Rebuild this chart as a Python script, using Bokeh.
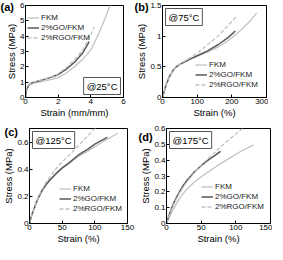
from bokeh.plotting import figure
from bokeh.models import Range1d, Legend, LegendItem, Label, FixedTicker
from bokeh.layouts import column, row
from bokeh.embed import file_html
from bokeh.resources import INLINE

SERIES = ["FKM", "2%GO/FKM", "2%RGO/FKM"]

# (a) 25 C, strain in mm/mm
A_FKM_X = [0, 0.05, 0.1, 0.2, 0.3, 0.5, 0.8, 1.2, 1.6, 2.0, 2.5, 3.0, 3.5, 4.0, 4.5, 5.0, 5.2]
A_FKM_Y = [0, 0.35, 0.55, 0.75, 0.85, 0.93, 1.0, 1.08, 1.18, 1.3, 1.6, 2.0, 2.5, 3.1, 4.2, 5.5, 6.1]
A_GO_X = [0, 0.05, 0.1, 0.2, 0.3, 0.5, 0.8, 1.2, 1.6, 2.0, 2.5, 3.0, 3.5, 3.9]
A_GO_Y = [0, 0.4, 0.6, 0.8, 0.9, 1.0, 1.08, 1.2, 1.33, 1.5, 1.85, 2.3, 2.9, 3.65]
A_RGO_X = [0, 0.05, 0.1, 0.2, 0.3, 0.5, 0.8, 1.2, 1.6, 2.0, 2.5, 3.0, 3.5, 4.0, 4.2]
A_RGO_Y = [0, 0.4, 0.6, 0.8, 0.9, 1.0, 1.1, 1.22, 1.36, 1.55, 1.95, 2.45, 3.1, 4.1, 4.6]

# (b) 75 C, strain in %
B_FKM_X = [0, 5, 10, 20, 30, 40, 50, 60, 80, 100, 130, 160, 200, 230, 250, 272]
B_FKM_Y = [0, 0.1, 0.2, 0.34, 0.44, 0.5, 0.54, 0.57, 0.62, 0.67, 0.74, 0.82, 0.97, 1.12, 1.23, 1.38]
B_GO_X = [0, 5, 10, 20, 30, 40, 50, 60, 80, 100, 130, 160, 190, 210]
B_GO_Y = [0, 0.1, 0.2, 0.34, 0.44, 0.5, 0.54, 0.57, 0.63, 0.68, 0.76, 0.86, 0.98, 1.085]
B_RGO_X = [0, 5, 10, 20, 30, 40, 50, 60, 80, 100, 130, 160, 190, 215]
B_RGO_Y = [0, 0.1, 0.2, 0.34, 0.44, 0.5, 0.54, 0.58, 0.65, 0.72, 0.86, 1.0, 1.18, 1.33]

# (c) 125 C
C_FKM_X = [0, 2, 5, 10, 15, 20, 25, 30, 40, 50, 60, 75, 90, 100, 115, 135]
C_FKM_Y = [0, 0.035, 0.08, 0.145, 0.2, 0.245, 0.28, 0.31, 0.36, 0.405, 0.44, 0.495, 0.535, 0.565, 0.61, 0.665]
C_GO_X = [0, 2, 5, 10, 15, 20, 25, 30, 40, 50, 60, 75, 90, 100, 119]
C_GO_Y = [0, 0.04, 0.085, 0.15, 0.205, 0.25, 0.285, 0.315, 0.365, 0.41, 0.445, 0.505, 0.55, 0.585, 0.635]
C_RGO_X = [0, 2, 5, 10, 15, 20, 25, 30, 40, 50, 60, 75, 90, 104]
C_RGO_Y = [0, 0.04, 0.085, 0.15, 0.21, 0.26, 0.3, 0.335, 0.4, 0.455, 0.5, 0.575, 0.65, 0.72]

# (d) 175 C
D_FKM_X = [0, 2, 5, 10, 15, 20, 25, 30, 40, 50, 60, 75, 90, 105, 125]
D_FKM_Y = [0, 0.02, 0.05, 0.09, 0.13, 0.165, 0.195, 0.22, 0.26, 0.295, 0.325, 0.37, 0.41, 0.45, 0.495]
D_GO_X = [0, 2, 5, 10, 15, 20, 25, 30, 40, 50, 60, 70, 78]
D_GO_Y = [0, 0.03, 0.07, 0.125, 0.17, 0.21, 0.245, 0.275, 0.325, 0.365, 0.4, 0.43, 0.455]
D_RGO_X = [0, 2, 5, 10, 15, 20, 25, 30, 40, 50, 60, 75, 90, 100, 112]
D_RGO_Y = [0, 0.028, 0.065, 0.115, 0.16, 0.2, 0.235, 0.265, 0.32, 0.37, 0.41, 0.47, 0.53, 0.565, 0.61]

A_XTICKS = [0, 2, 4, 6]
A_XLABELS = ["0", "2", "4", "6"]
A_YTICKS = [0, 1, 2, 3, 4, 5, 6]
A_YLABELS = ["0", "1", "2", "3", "4", "5", "6"]
B_XTICKS = [0, 100, 200, 300]
B_XLABELS = ["0", "100", "200", "300"]
B_YTICKS = [0, 0.5, 1, 1.5]
B_YLABELS = ["0", "0.5", "1", "1.5"]
C_XTICKS = [0, 50, 100, 150]
C_XLABELS = ["0", "50", "100", "150"]
C_YTICKS = [0, 0.2, 0.4, 0.6]
C_YLABELS = ["0", "0.2", "0.4", "0.6"]
D_XTICKS = [0, 50, 100, 150]
D_XLABELS = ["0", "50", "100", "150"]
D_YTICKS = [0, 0.1, 0.2, 0.3, 0.4, 0.5, 0.6]
D_YLABELS = ["0", "0.1", "0.2", "0.3", "0.4", "0.5", "0.6"]

FONT = "Liberation Sans"
LIGHT = "#c2c2c2"
DARK = "#595959"


def panel(series, xr, yr, xt, xl, yt, yl, xlab, tag, temp, fw, fh, borders,
          leg_loc, box_corner, tag_drop):
    bl, br, bt, bb = borders
    p = figure(frame_width=fw, frame_height=fh, output_backend="svg",
               toolbar_location=None, x_range=Range1d(*xr), y_range=Range1d(*yr),
               min_border_left=bl, min_border_right=br, min_border_top=bt,
               min_border_bottom=bb, title=tag)
    p.title.align = "left"
    p.title.vertical_align = "bottom"
    p.title.offset = -bl
    p.title.standoff = -tag_drop
    p.title.text_font = FONT
    p.title.text_font_size = "11px"
    p.title.text_font_style = "bold"
    p.title.text_color = "black"

    p.xgrid.visible = False
    p.ygrid.visible = False
    p.outline_line_color = "black"
    p.outline_line_alpha = 1
    p.background_fill_color = "white"
    p.border_fill_color = "white"
    for ax, ticks, labels in ((p.xaxis[0], xt, xl), (p.yaxis[0], yt, yl)):
        ax.ticker = FixedTicker(ticks=ticks)
        ax.major_label_overrides = {t: s for t, s in zip(ticks, labels)}
        ax.minor_tick_line_color = None
        ax.major_tick_in = 3
        ax.major_tick_out = 0
        ax.major_label_standoff = 1
        ax.major_label_text_font = FONT
        ax.major_label_text_font_size = "8px"
        ax.major_label_text_color = "black"
        ax.axis_label_text_font = FONT
        ax.axis_label_text_font_size = "9.5px"
        ax.axis_label_text_font_style = "normal"
        ax.axis_label_text_color = "black"
        ax.axis_label_standoff = 0
        ax.axis_line_color = "black"
    p.xaxis.axis_label = xlab
    p.yaxis.axis_label = "Stress (MPa)"

    (fx, fy), (gx, gy), (rx, ry) = series
    r1 = p.line(fx, fy, line_color=LIGHT, line_width=1.3)
    r2 = p.line(gx, gy, line_color=DARK, line_width=1.5)
    r3 = p.line(rx, ry, line_color=LIGHT, line_width=1.3, line_dash="4 2")

    leg = Legend(items=[LegendItem(label=SERIES[0], renderers=[r1]),
                        LegendItem(label=SERIES[1], renderers=[r2]),
                        LegendItem(label=SERIES[2], renderers=[r3])],
                 location=leg_loc, orientation="vertical",
                 label_text_font=FONT, label_text_font_size="8px",
                 label_text_color="#222222",
                 glyph_width=12, glyph_height=9, label_height=9,
                 label_standoff=2, spacing=1, padding=0, margin=0,
                 border_line_alpha=0, background_fill_alpha=0)
    p.add_layout(leg)

    if box_corner == "br":
        box = Label(x=xr[1], y=yr[0], text=temp, text_align="right",
                    text_baseline="bottom", x_offset=-3, y_offset=3)
    else:
        box = Label(x=xr[0], y=yr[1], text=temp, text_align="left",
                    text_baseline="top", x_offset=3, y_offset=-3)
    box.text_font = FONT
    box.text_font_size = "9.5px"
    box.text_color = "black"
    box.padding = 3
    box.border_line_color = "#555555"
    box.border_line_width = 1
    box.background_fill_color = "white"
    p.add_layout(box)
    return p


FW_L, FW_R = 98, 104
FH_T, FH_B = 92, 95
BORD_L = (25, 10, 5, 22)
BORD_R = (28, 2, 5, 22)
BORD_LB = (25, 10, 8, 22)
BORD_RB = (28, 2, 8, 22)

pa = panel([(A_FKM_X, A_FKM_Y), (A_GO_X, A_GO_Y), (A_RGO_X, A_RGO_Y)],
           (0, 6), (0, 6), A_XTICKS, A_XLABELS, A_YTICKS, A_YLABELS,
           "Strain (mm/mm)", "(a)", "@25°C", FW_L, FH_T, BORD_L,
           (2, FH_T - 37), "br", 14)
pb = panel([(B_FKM_X, B_FKM_Y), (B_GO_X, B_GO_Y), (B_RGO_X, B_RGO_Y)],
           (0, 300), (0, 1.5), B_XTICKS, B_XLABELS, B_YTICKS, B_YLABELS,
           "Strain (%)", "(b)", "@75°C", FW_R, FH_T, BORD_R,
           (33, 8), "tl", 14)
pc = panel([(C_FKM_X, C_FKM_Y), (C_GO_X, C_GO_Y), (C_RGO_X, C_RGO_Y)],
           (0, 150), (0, 0.7), C_XTICKS, C_XLABELS, C_YTICKS, C_YLABELS,
           "Strain (%)", "(c)", "@125°C", FW_L, FH_B, BORD_LB,
           (30, 10), "tl", 18)
pd = panel([(D_FKM_X, D_FKM_Y), (D_GO_X, D_GO_Y), (D_RGO_X, D_RGO_Y)],
           (0, 150), (0, 0.6), D_XTICKS, D_XLABELS, D_YTICKS, D_YLABELS,
           "Strain (%)", "(d)", "@175°C", FW_R, FH_B, BORD_RB,
           (35, 12), "tl", 28)

layout = column(row(pa, pb, spacing=0), row(pc, pd, spacing=0), spacing=0)
open("out.html", "w").write(file_html(layout, INLINE))
